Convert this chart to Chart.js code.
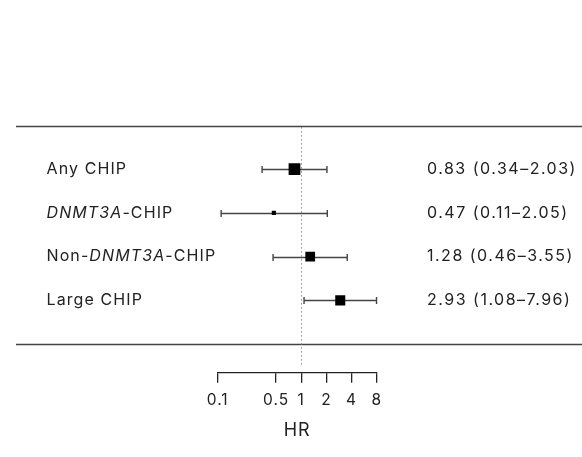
<!DOCTYPE html>
<html>
<head>
<meta charset="utf-8">
<script src="https://cdn.jsdelivr.net/npm/chart.js@4"></script>
<style>
  html, body { margin: 0; padding: 0; background: #fff; }
  #wrap { width: 582px; height: 457px; position: relative; }
</style>
</head>
<body>
<div id="wrap"><canvas id="c"></canvas></div>
<script>
const categories = ['Any CHIP', 'DNMT3A-CHIP', 'Non-DNMT3A-CHIP', 'Large CHIP'];
const hrValues = [0.83, 0.47, 1.28, 2.93];
const ciLower = [0.34, 0.11, 0.46, 1.08];
const ciUpper = [2.03, 2.05, 3.55, 7.96];
const tickValues = [0.1, 0.5, 1, 2, 4, 8];
const axisTitle = 'HR';
const italicWord = 'DNMT3A';

const FONT = 'Inter, "Noto Sans", sans-serif';
const TEXT_COLOR = '#222';

const points = hrValues.map((v, i) => ({ x: v, y: i }));
const ciLabels = hrValues.map((v, i) =>
  v.toFixed(2) + ' (' + ciLower[i].toFixed(2) + '\u2013' + ciUpper[i].toFixed(2) + ')');

const forestPlugin = {
  id: 'forest',
  beforeDraw(chart) {
    chart.ctx.letterSpacing = '1px';
  },
  beforeDatasetsDraw(chart) {
    const ctx = chart.ctx;
    const xs = chart.scales.x, ys = chart.scales.y;
    const area = chart.chartArea;
    ctx.save();
    // frame lines
    ctx.strokeStyle = '#444';
    ctx.lineWidth = 1.5;
    [ys.getPixelForValue(-0.986), ys.getPixelForValue(4.0)].forEach(py => {
      ctx.beginPath();
      ctx.moveTo(16, Math.round(py) + 0.5);
      ctx.lineTo(chart.width, Math.round(py) + 0.5);
      ctx.stroke();
    });
    // reference line at HR = 1
    const x1 = Math.round(xs.getPixelForValue(1)) + 0.5;
    ctx.strokeStyle = '#888';
    ctx.lineWidth = 1;
    ctx.setLineDash([1.5, 2.5]);
    ctx.beginPath();
    ctx.moveTo(x1, ys.getPixelForValue(-0.96));
    ctx.lineTo(x1, area.bottom - 7);
    ctx.stroke();
    ctx.setLineDash([]);
    // confidence intervals
    ctx.strokeStyle = '#444';
    ctx.lineWidth = 1.4;
    hrValues.forEach((v, i) => {
      const py = Math.round(ys.getPixelForValue(i)) + 0.5;
      const xl = xs.getPixelForValue(ciLower[i]);
      const xh = xs.getPixelForValue(ciUpper[i]);
      ctx.beginPath();
      ctx.moveTo(xl, py); ctx.lineTo(xh, py);
      ctx.moveTo(xl, py - 3.5); ctx.lineTo(xl, py + 3.5);
      ctx.moveTo(xh, py - 3.5); ctx.lineTo(xh, py + 3.5);
      ctx.stroke();
    });
    ctx.restore();
  },
  afterDraw(chart) {
    const ctx = chart.ctx;
    const ys = chart.scales.y;
    ctx.save();
    ctx.fillStyle = TEXT_COLOR;
    ctx.textBaseline = 'middle';
    ctx.textAlign = 'left';
    categories.forEach((label, i) => {
      const py = ys.getPixelForValue(i);
      let x = 46.5;
      ctx.letterSpacing = '1.1px';
      const parts = label.split(new RegExp('(' + italicWord + ')'));
      parts.forEach(p => {
        if (!p) return;
        ctx.font = (p === italicWord ? 'italic ' : '') + '16px ' + FONT;
        ctx.fillText(p, x, py);
        x += ctx.measureText(p).width;
      });
      ctx.font = '16px ' + FONT;
      ctx.letterSpacing = '1.5px';
      ctx.fillText(ciLabels[i], 427, py);
    });
    ctx.restore();
    ctx.letterSpacing = '0px';
  }
};

new Chart(document.getElementById('c'), {
  type: 'scatter',
  data: {
    datasets: [{
      data: points,
      pointStyle: 'rect',
      pointRadius: [8.3, 2.9, 6.9, 7.1],
      pointHoverRadius: [8.3, 2.9, 6.9, 7.1],
      pointBorderWidth: 0,
      backgroundColor: '#000',
      borderColor: '#000'
    }]
  },
  options: {
    responsive: true,
    maintainAspectRatio: false,
    animation: false,
    events: [],
    layout: { padding: { left: 217.7, right: 205.3, top: 126, bottom: 11 } },
    plugins: { legend: { display: false }, tooltip: { enabled: false } },
    scales: {
      x: {
        type: 'logarithmic',
        min: 0.1,
        max: 8,
        afterBuildTicks(scale) { scale.ticks = tickValues.map(v => ({ value: v })); },
        ticks: {
          autoSkip: false,
          maxRotation: 0,
          padding: 8,
          color: TEXT_COLOR,
          font: { family: FONT, size: 15.5 },
          callback: v => String(v)
        },
        grid: { drawOnChartArea: false, drawTicks: true, tickLength: 10, color: '#222', lineWidth: 1.3 },
        border: { display: true, color: '#222', width: 1.3 },
        title: {
          display: true,
          text: axisTitle,
          color: TEXT_COLOR,
          font: { family: FONT, size: 18 },
          padding: { top: 2, bottom: 5 }
        }
      },
      y: {
        type: 'linear',
        display: false,
        reverse: true,
        min: -0.986,
        max: 4.656
      }
    }
  },
  plugins: [forestPlugin]
});
</script>
</body>
</html>
